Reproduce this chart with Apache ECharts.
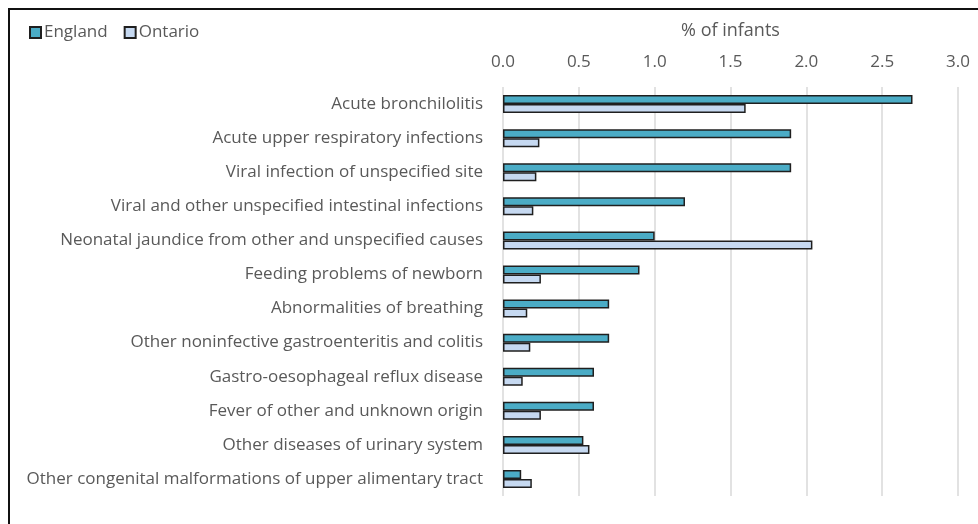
<!DOCTYPE html>
<html>
<head>
<meta charset="utf-8">
<script src="https://cdn.jsdelivr.net/npm/echarts@6/dist/echarts.min.js"></script>
<style>
  html, body { margin: 0; padding: 0; background: #fff; }
  #chart { width: 978px; height: 524px; }
  #frame {
    position: absolute; left: 8px; top: 8px; width: 980px; height: 530px;
    border-left: 2px solid #111; border-top: 2px solid #111; pointer-events: none;
  }
</style>
</head>
<body>
<div id="chart"></div>
<div id="frame"></div>
<script>
// categories, top to bottom
const causes = [
  "Acute bronchilolitis",
  "Acute upper respiratory infections",
  "Viral infection of unspecified site",
  "Viral and other unspecified intestinal infections",
  "Neonatal jaundice from other and unspecified causes",
  "Feeding problems of newborn",
  "Abnormalities of breathing",
  "Other noninfective gastroenteritis and colitis",
  "Gastro-oesophageal reflux disease",
  "Fever of other and unknown origin",
  "Other diseases of urinary system",
  "Other congenital malformations of upper alimentary tract"
];

const england = [2.70, 1.90, 1.90, 1.20, 1.00, 0.90, 0.70, 0.70, 0.60, 0.60, 0.53, 0.12];
const ontario = [1.60, 0.24, 0.22, 0.20, 2.04, 0.25, 0.16, 0.18, 0.13, 0.25, 0.57, 0.19];

const FONT = "Open Sans";
const TEXT = "#595959";

const chart = echarts.init(document.getElementById("chart"), null, { renderer: "canvas" });

chart.setOption({
  animation: false,
  backgroundColor: "#fff",
  textStyle: { fontFamily: FONT },
  legend: {
    left: 24,
    top: 19,
    itemWidth: 11,
    itemHeight: 11,
    itemGap: 16,
    icon: "rect",
    textStyle: { color: TEXT, fontSize: 17, fontFamily: FONT, padding: [0, 0, 0, -2] },
    data: ["England", "Ontario"]
  },
  grid: {
    left: 503,
    right: 20,
    top: 87,
    bottom: 28
  },
  xAxis: {
    type: "value",
    position: "top",
    min: 0,
    max: 3,
    interval: 0.5,
    name: "% of infants",
    nameLocation: "middle",
    nameGap: 47,
    nameTextStyle: { color: TEXT, fontSize: 18, fontFamily: FONT },
    axisLine: { show: false },
    axisTick: { show: false },
    axisLabel: {
      color: TEXT,
      fontSize: 17,
      fontFamily: FONT,
      margin: 16,
      formatter: (v) => v.toFixed(1)
    },
    splitLine: { lineStyle: { color: "#d9d9d9", width: 1.5 } }
  },
  yAxis: {
    type: "category",
    inverse: true,
    data: causes,
    axisLine: { show: false },
    axisTick: { show: false },
    axisLabel: { color: TEXT, fontSize: 17, fontFamily: FONT, margin: 20 }
  },
  series: [
    {
      name: "England",
      type: "bar",
      data: england,
      barWidth: 9,
      barGap: "0%",
      itemStyle: { color: "#4BACC6", borderColor: "#1f1f1f", borderWidth: 1.5 }
    },
    {
      name: "Ontario",
      type: "bar",
      data: ontario,
      barWidth: 9,
      barGap: "0%",
      itemStyle: { color: "#C6D9F1", borderColor: "#1f1f1f", borderWidth: 1.5 }
    }
  ]
});

window.addEventListener("resize", () => chart.resize());
</script>
</body>
</html>
